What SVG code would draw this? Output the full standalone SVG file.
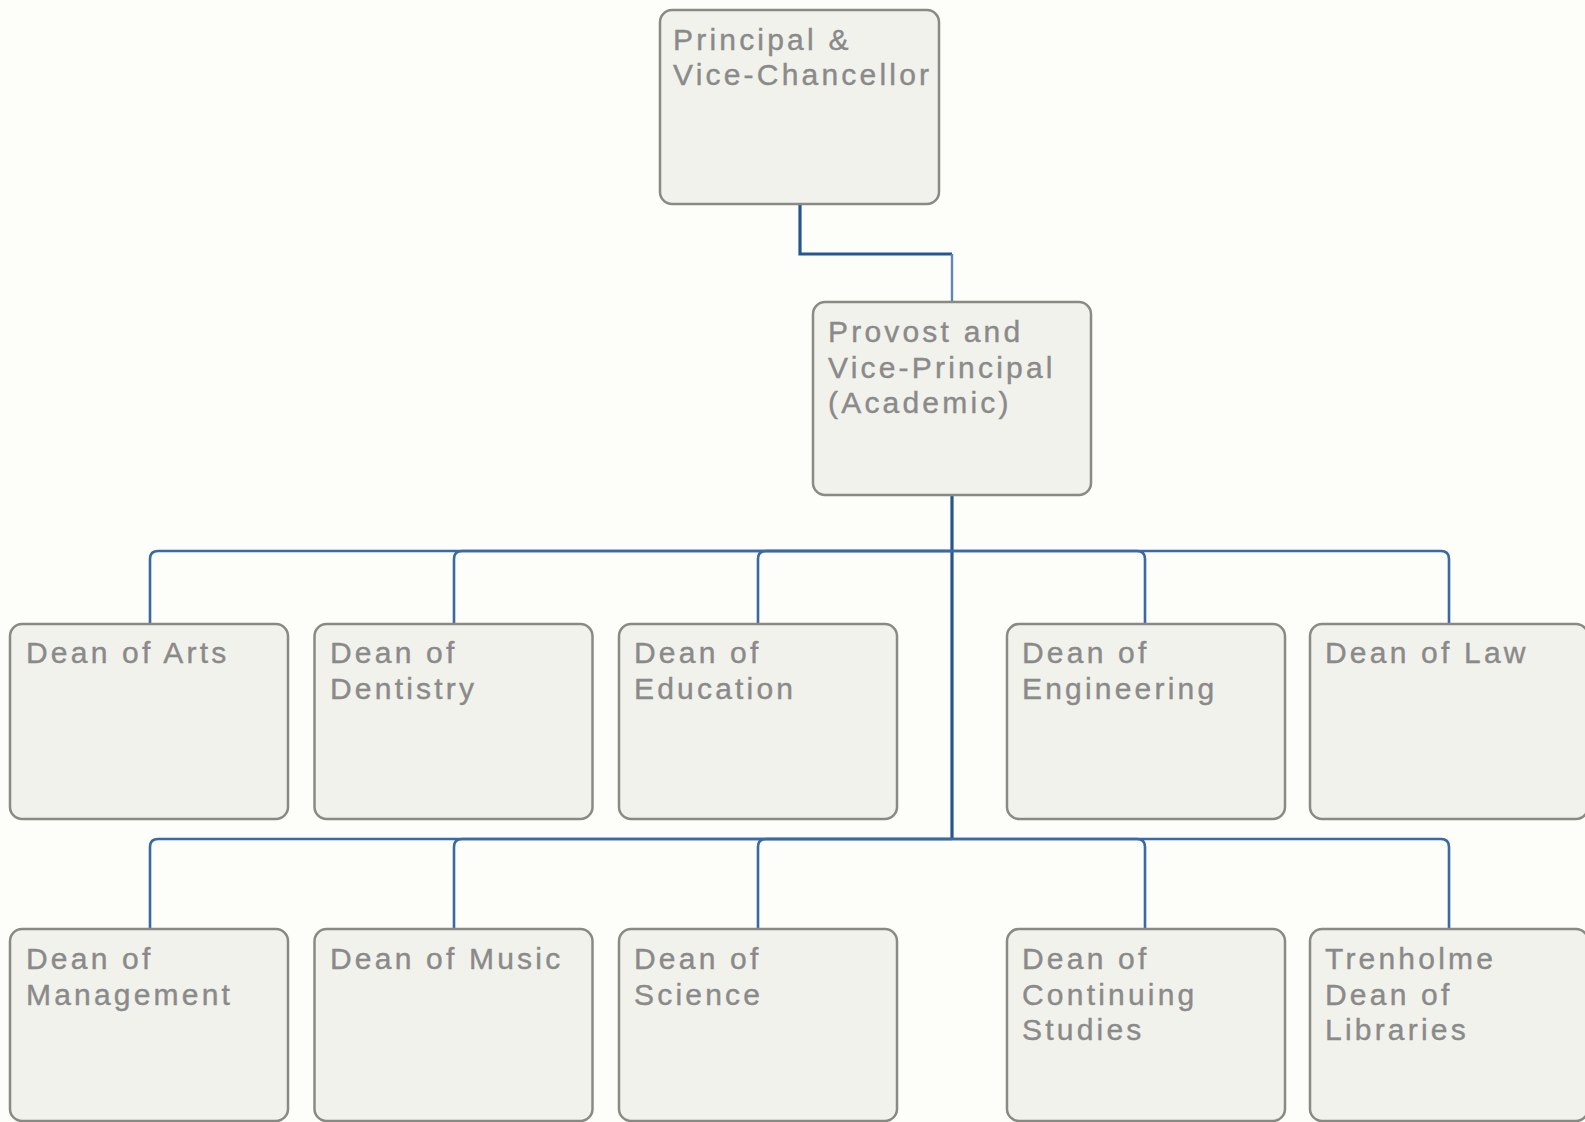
<svg xmlns="http://www.w3.org/2000/svg" width="1585" height="1122" viewBox="0 0 1585 1122">
  <style>
    .box { fill: #f2f2ec; stroke: #8a8a85; stroke-width: 2.5; }
    .lbl { font-family: "Liberation Sans", Arial, sans-serif; font-size: 30px; letter-spacing: 3.2px; fill: #8a8a8a; stroke: #8a8a8a; stroke-width: 0.4; }
    .trunk { fill: none; stroke: #25568f; stroke-width: 3.2; }
    .branch { fill: none; stroke: #3a6aa4; stroke-width: 2.6; }
    .light { fill: none; stroke: #5f88b8; stroke-width: 2.4; }
  </style>
  <rect x="0" y="0" width="1585" height="1122" fill="#fdfdf9"/>

  <g id="connectors">
    <!-- principal to provost -->
    <path class="trunk" d="M800 204 V254 H952"/>
    <path class="light" d="M952 254 V302"/>
    <!-- provost trunk -->
    <path class="trunk" d="M952 495 V839"/>
    <!-- upper bus -->
    <path class="branch" d="M952 551 H158 Q150 551 150 559 V624"/>
    <path class="branch" d="M952 551 H462 Q454 551 454 559 V624"/>
    <path class="branch" d="M952 551 H766 Q758 551 758 559 V624"/>
    <path class="branch" d="M952 551 H1137 Q1145 551 1145 559 V624"/>
    <path class="branch" d="M952 551 H1441 Q1449 551 1449 559 V624"/>
    <!-- lower bus -->
    <path class="branch" d="M952 839 H158 Q150 839 150 847 V929"/>
    <path class="branch" d="M952 839 H462 Q454 839 454 847 V929"/>
    <path class="branch" d="M952 839 H766 Q758 839 758 847 V929"/>
    <path class="branch" d="M952 839 H1137 Q1145 839 1145 847 V929"/>
    <path class="branch" d="M952 839 H1441 Q1449 839 1449 847 V929"/>
  </g>

  <g id="principal">
    <rect class="box" x="660" y="10" width="279" height="194" rx="12"/>
    <text class="lbl" x="673" y="50">Principal &amp;</text>
    <text class="lbl" x="673" y="85">Vice-Chancellor</text>
  </g>

  <g id="provost">
    <rect class="box" x="813" y="302" width="278" height="193" rx="12"/>
    <text class="lbl" x="828" y="342">Provost and</text>
    <text class="lbl" x="828" y="377.5">Vice-Principal</text>
    <text class="lbl" x="828" y="413">(Academic)</text>
  </g>

  <g id="dean-arts">
    <rect class="box" x="10" y="624" width="278" height="195" rx="12"/>
    <text class="lbl" x="26" y="663">Dean of Arts</text>
  </g>
  <g id="dean-dentistry">
    <rect class="box" x="314.5" y="624" width="278" height="195" rx="12"/>
    <text class="lbl" x="330" y="663">Dean of</text>
    <text class="lbl" x="330" y="698.5">Dentistry</text>
  </g>
  <g id="dean-education">
    <rect class="box" x="619" y="624" width="278" height="195" rx="12"/>
    <text class="lbl" x="634" y="663">Dean of</text>
    <text class="lbl" x="634" y="698.5">Education</text>
  </g>
  <g id="dean-engineering">
    <rect class="box" x="1007" y="624" width="278" height="195" rx="12"/>
    <text class="lbl" x="1022" y="663">Dean of</text>
    <text class="lbl" x="1022" y="698.5">Engineering</text>
  </g>
  <g id="dean-law">
    <rect class="box" x="1310" y="624" width="278" height="195" rx="12"/>
    <text class="lbl" x="1325" y="663">Dean of Law</text>
  </g>

  <g id="dean-management">
    <rect class="box" x="10" y="929" width="278" height="192" rx="12"/>
    <text class="lbl" x="26" y="969">Dean of</text>
    <text class="lbl" x="26" y="1004.5">Management</text>
  </g>
  <g id="dean-music">
    <rect class="box" x="314.5" y="929" width="278" height="192" rx="12"/>
    <text class="lbl" x="330" y="969">Dean of Music</text>
  </g>
  <g id="dean-science">
    <rect class="box" x="619" y="929" width="278" height="192" rx="12"/>
    <text class="lbl" x="634" y="969">Dean of</text>
    <text class="lbl" x="634" y="1004.5">Science</text>
  </g>
  <g id="dean-continuing-studies">
    <rect class="box" x="1007" y="929" width="278" height="192" rx="12"/>
    <text class="lbl" x="1022" y="969">Dean of</text>
    <text class="lbl" x="1022" y="1004.5">Continuing</text>
    <text class="lbl" x="1022" y="1040">Studies</text>
  </g>
  <g id="dean-libraries">
    <rect class="box" x="1310" y="929" width="278" height="192" rx="12"/>
    <text class="lbl" x="1325" y="969">Trenholme</text>
    <text class="lbl" x="1325" y="1004.5">Dean of</text>
    <text class="lbl" x="1325" y="1040">Libraries</text>
  </g>
</svg>
